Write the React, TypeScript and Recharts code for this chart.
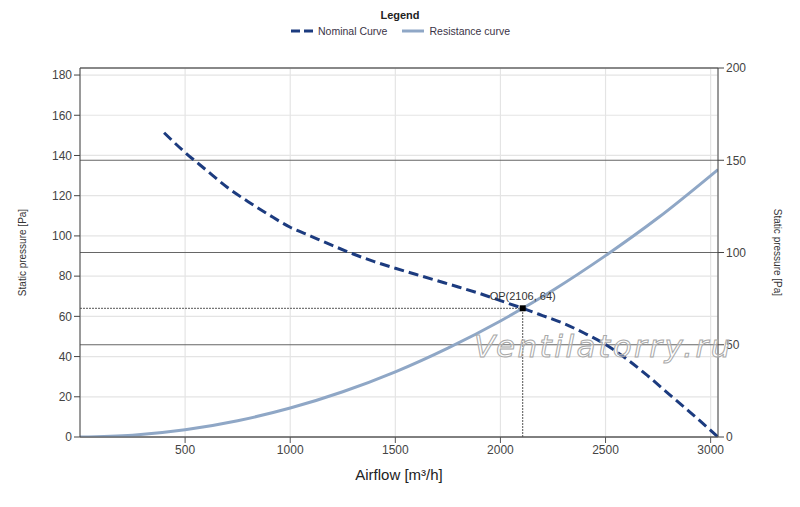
import {
  CartesianGrid,
  ComposedChart,
  Line,
  ReferenceDot,
  ReferenceLine,
  XAxis,
  YAxis,
} from "recharts";

// Nominal fan curve (airflow m³/h -> static pressure Pa)
const nominalFlow = [400, 500, 600, 700, 800, 900, 1000, 1100, 1200, 1300, 1400, 1500, 1600, 1700, 1800, 1900, 2000, 2106, 2200, 2300, 2400, 2500, 2600, 2700, 2800, 2900, 3000, 3035];
const nominalPressure = [151.3, 141.5, 132.8, 124.2, 117, 110.4, 104.3, 99.8, 95.3, 91, 87.2, 83.9, 80.8, 77.7, 74.6, 71.4, 67.8, 64, 60.4, 56.5, 51.6, 46, 38.8, 30.5, 21.5, 12.5, 3.3, 0];

// Duct resistance curve
const resistanceFlow = [0, 250, 500, 750, 1000, 1250, 1500, 1750, 2000, 2106, 2250, 2500, 2750, 3035];
const resistancePressure = [0, 0.9, 3.6, 8.1, 14.4, 22.5, 32.4, 44.2, 57.7, 64, 73, 90.2, 109, 133];

// Operating point
const opFlow = 2106;
const opPressure = 64;

const xTicks = [500, 1000, 1500, 2000, 2500, 3000];
const leftTicks = [0, 20, 40, 60, 80, 100, 120, 140, 160, 180];
const rightTicks = [0, 50, 100, 150, 200];

const NAVY = "#1c3b7f";
const STEEL = "#8fa7c6";
const FONT = '"Liberation Sans Narrow", "Liberation Sans", Arial, sans-serif';

const nominalData = nominalFlow.map((q, i) => ({ q, p: nominalPressure[i] }));
const resistanceData = resistanceFlow.map((q, i) => ({ q, p: resistancePressure[i] }));

const tickStyle = { fontSize: 12, fill: "#444", fontFamily: FONT };

function OpMarker({ cx, cy }: { cx?: number; cy?: number }) {
  if (cx == null || cy == null) return null;
  return (
    <g>
      <rect x={cx - 3} y={cy - 3} width={6} height={6} fill="#000" />
      <text x={cx} y={cy - 8} textAnchor="middle" fontSize={11} fill="#333" fontFamily={FONT}>
        OP({opFlow}, {opPressure})
      </text>
    </g>
  );
}

function Legend() {
  return (
    <div style={{ position: "absolute", left: 0, top: 9, width: 800, textAlign: "center", fontFamily: FONT, color: "#3a3346" }}>
      <div style={{ fontSize: 11, fontWeight: 700, color: "#222", lineHeight: "12px" }}>Legend</div>
      <div style={{ display: "flex", justifyContent: "center", alignItems: "center", gap: 4, fontSize: 10.5, marginTop: 4, lineHeight: "12px" }}>
        <svg width={24} height={6}>
          <line x1={1} y1={3} x2={23} y2={3} stroke={NAVY} strokeWidth={3} strokeDasharray="9 4" />
        </svg>
        <span style={{ marginRight: 10 }}>Nominal Curve</span>
        <svg width={24} height={6}>
          <line x1={1} y1={3} x2={23} y2={3} stroke={STEEL} strokeWidth={3} />
        </svg>
        <span>Resistance curve</span>
      </div>
    </div>
  );
}

export default function App() {
  return (
    <div style={{ position: "absolute", left: 0, top: 0, width: 800, height: 507, background: "#fff" }}>
      <Legend />
      <ComposedChart width={800} height={507} margin={{ top: 68, right: 0, bottom: 0, left: 0 }}>
        <CartesianGrid xAxisId="x" yAxisId="left" stroke="#e4e4e4" strokeWidth={1.2} />
        <CartesianGrid xAxisId="x" yAxisId="right" stroke="#666" strokeWidth={1.2} vertical={false} />
        <XAxis
          xAxisId="x"
          type="number"
          dataKey="q"
          domain={[0, 3035]}
          ticks={xTicks}
          allowDataOverflow
          height={70}
          stroke="#555"
          tick={tickStyle}
          tickSize={6}
          label={{ value: "Airflow [m³/h]", position: "insideTop", offset: 32, style: { fontSize: 15, fill: "#222", fontFamily: FONT } }}
        />
        <YAxis
          yAxisId="left"
          type="number"
          domain={[0, 183.5]}
          ticks={leftTicks}
          allowDataOverflow
          width={80}
          stroke="#444"
          tick={tickStyle}
          tickSize={6}
          label={{ value: "Static pressure [Pa]", angle: -90, position: "insideLeft", offset: 22, style: { fontSize: 10, fill: "#333", fontFamily: FONT, textAnchor: "middle" } }}
        />
        <YAxis
          yAxisId="right"
          orientation="right"
          type="number"
          domain={[0, 200]}
          ticks={rightTicks}
          allowDataOverflow
          width={82}
          stroke="#444"
          tick={tickStyle}
          tickSize={6}
          label={{ value: "Static pressure [Pa]", angle: 90, position: "insideRight", offset: 22, style: { fontSize: 10, fill: "#333", fontFamily: FONT, textAnchor: "middle" } }}
        />
        <ReferenceLine xAxisId="x" yAxisId="right" y={200} stroke="#666" strokeWidth={1.2} />
        <ReferenceLine
          xAxisId="x"
          yAxisId="left"
          segment={[{ x: 0, y: opPressure }, { x: opFlow, y: opPressure }]}
          stroke="#555"
          strokeDasharray="2 1"
        />
        <ReferenceLine
          xAxisId="x"
          yAxisId="left"
          segment={[{ x: opFlow, y: 0 }, { x: opFlow, y: opPressure }]}
          stroke="#555"
          strokeDasharray="2 1"
        />
        <Line
          xAxisId="x"
          yAxisId="left"
          data={resistanceData}
          dataKey="p"
          type="monotone"
          stroke={STEEL}
          strokeWidth={3}
          dot={false}
          isAnimationActive={false}
        />
        <Line
          xAxisId="x"
          yAxisId="left"
          data={nominalData}
          dataKey="p"
          type="monotone"
          stroke={NAVY}
          strokeWidth={3}
          strokeDasharray="10 5"
          dot={false}
          isAnimationActive={false}
        />
        <ReferenceDot xAxisId="x" yAxisId="left" x={opFlow} y={opPressure} shape={<OpMarker />} />
      </ComposedChart>
      <div
        style={{
          position: "absolute",
          left: 474,
          top: 328,
          fontFamily: '"DejaVu Sans", Verdana, sans-serif',
          fontStyle: "italic",
          fontSize: 31,
          letterSpacing: 2.5,
          color: "rgba(255,255,255,0.35)",
          WebkitTextStroke: "1px #a8a8a8",
          pointerEvents: "none",
          whiteSpace: "nowrap",
        }}
      >
        Ventilatorry.ru
      </div>
    </div>
  );
}
